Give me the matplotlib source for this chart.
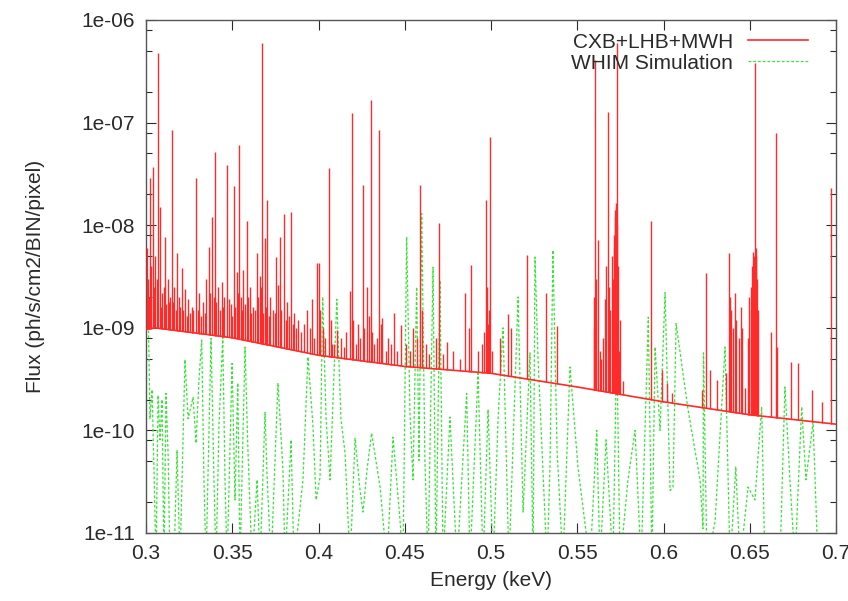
import numpy as np
import matplotlib
matplotlib.use("Agg")
import matplotlib.pyplot as plt
from matplotlib.ticker import LogLocator, FixedLocator, NullFormatter, FuncFormatter

plt.rcParams['font.family'] = ['Liberation Sans', 'DejaVu Sans']

# ---- CXB+LHB+MWH continuum (read at a few energies) ----
cont_energy = [0.300, 0.305, 0.350, 0.400, 0.450, 0.500, 0.550, 0.600, 0.650, 0.700]
cont_flux = [9.6e-10, 1.0e-9, 8.0e-10, 5.4e-10, 4.2e-10, 3.6e-10, 2.65e-10, 1.9e-10, 1.42e-10, 1.15e-10]

# ---- CXB+LHB+MWH emission lines: energy (keV) and peak flux ----
line_energy = [
    0.3005, 0.3010, 0.3023, 0.3039, 0.3045, 0.3055, 0.3070, 0.3080, 0.3095, 0.3110,
    0.3125, 0.3135, 0.3150, 0.3165, 0.3178, 0.3190, 0.3207, 0.3225, 0.3244, 0.3265,
    0.3275, 0.3290, 0.3310, 0.3330, 0.3350, 0.3365, 0.3380, 0.3400, 0.3415, 0.3439,
    0.3455, 0.3471, 0.3490, 0.3510, 0.3525, 0.3539, 0.3550, 0.3564, 0.3584, 0.3600,
    0.3620, 0.3645, 0.3660, 0.3671, 0.3690, 0.3703, 0.3720, 0.3735, 0.3754, 0.3765,
    0.3777, 0.3800, 0.3820, 0.3840, 0.3860, 0.3880, 0.3915, 0.3935, 0.3960, 0.3990,
    0.4003, 0.4025, 0.4061, 0.4080, 0.4105, 0.4130, 0.4160, 0.4180, 0.4192, 0.4215,
    0.4230, 0.4256, 0.4280, 0.4302, 0.4320, 0.4351, 0.4368, 0.4405, 0.4438, 0.4476,
    0.4510, 0.4550, 0.4588, 0.4625, 0.4680, 0.4700, 0.4743, 0.4850, 0.4884, 0.4923,
    0.4960, 0.4971, 0.4980, 0.4992, 0.5050, 0.5100, 0.5115, 0.5207, 0.5319, 0.5380,
    0.5595, 0.5603, 0.5610, 0.5622, 0.5640, 0.5660, 0.5676, 0.5700, 0.5715, 0.5720,
    0.5724, 0.5728, 0.5732, 0.5740, 0.5765, 0.5926, 0.5990, 0.6020, 0.6050, 0.6225,
    0.6246, 0.6270, 0.6310, 0.6360, 0.6380, 0.6414, 0.6447, 0.6475, 0.6497, 0.6515,
    0.6522, 0.6530, 0.6535, 0.6542, 0.6623, 0.6650, 0.6660, 0.6737, 0.6780, 0.6860,
    0.6920, 0.6973,
]
line_flux = [
    6.0e-9, 3.0e-9, 2.9e-8, 3.7e-8, 2.5e-9, 5.0e-9, 4.8e-7, 1.5e-8, 2.2e-9, 7.7e-9,
    3.0e-9, 1.8e-9, 8.5e-8, 2.5e-9, 5.3e-9, 2.0e-9, 3.8e-9, 2.4e-9, 1.9e-9, 1.6e-9,
    1.5e-9, 2.9e-8, 2.2e-9, 1.8e-9, 3.0e-9, 6.1e-9, 1.2e-8, 5.2e-8, 2.5e-9, 2.8e-9,
    2.0e-9, 3.9e-8, 1.7e-9, 2.4e-8, 3.5e-9, 6.0e-8, 2.0e-9, 3.7e-9, 1.1e-8, 2.5e-9,
    1.6e-9, 5.3e-9, 3.2e-9, 6.0e-7, 7.5e-9, 1.76e-8, 2.0e-9, 1.5e-9, 4.9e-9, 2.6e-9,
    7.7e-9, 1.3e-8, 1.8e-9, 1.35e-8, 1.4e-9, 1.2e-9, 1.1e-9, 1.5e-9, 1.9e-9, 4.3e-9,
    4.3e-9, 1.0e-9, 3.6e-8, 7.0e-10, 9.5e-10, 8.0e-10, 9.0e-10, 2.3e-9, 1.24e-7, 7.0e-10,
    1.1e-9, 2.47e-8, 2.5e-9, 1.66e-7, 7.0e-10, 8.5e-8, 1.26e-9, 8.0e-10, 1.4e-9, 1.06e-9,
    7.0e-10, 1.0e-9, 2.47e-8, 7.0e-10, 8.0e-10, 1.05e-8, 7.3e-10, 2.2e-9, 4.1e-9, 6.0e-10,
    9.0e-10, 1.76e-8, 1.1e-9, 7.2e-8, 7.9e-10, 1.36e-9, 1.0e-9, 5.1e-9, 2.2e-9, 1.03e-9,
    1.0e-9, 4.1e-7, 1.2e-9, 7.1e-9, 5.0e-10, 1.9e-9, 1.27e-7, 5.0e-9, 8.0e-9, 1.2e-8,
    1.64e-8, 1.0e-8, 6.0e-7, 6.0e-10, 3.0e-10, 1.1e-8, 3.9e-10, 2.9e-10, 2.3e-10, 2.5e-10,
    3.4e-9, 3.9e-10, 3.1e-10, 3.6e-10, 5.3e-9, 2.2e-9, 1.6e-9, 2.6e-10, 2.0e-9, 4.0e-9,
    5.0e-9, 3.8e-7, 6.0e-9, 3.0e-9, 9.1e-10, 7.9e-8, 6.5e-10, 4.6e-10, 4.5e-10, 2.5e-10,
    1.9e-10, 2.3e-8,
]

# ---- weaker "forest" lines near the continuum ----
forest_energy = [
    0.3015, 0.3030, 0.3062, 0.3088, 0.3102, 0.3118, 0.3142, 0.3158, 0.3172, 0.3198,
    0.3215, 0.3235, 0.3255, 0.3300, 0.3320, 0.3340, 0.3372, 0.3392, 0.3408, 0.3428,
    0.3448, 0.3480, 0.3500, 0.3518, 0.3533, 0.3558, 0.3575, 0.3592, 0.3610, 0.3630,
    0.3652, 0.3667, 0.3678, 0.3697, 0.3712, 0.3745, 0.3785, 0.3810, 0.3830, 0.3850,
    0.3870, 0.3900, 0.3950, 0.3975, 0.4010, 0.4040, 0.4070, 0.4090, 0.4145, 0.4200,
    0.4240, 0.4265, 0.4290, 0.4310, 0.4340, 0.4360, 0.4390, 0.4420, 0.4455, 0.4530,
    0.4570, 0.4600, 0.4640, 0.4720, 0.4780, 0.4820, 0.4870, 0.4945, 0.4975, 0.4988,
    0.5005, 0.5598, 0.5606, 0.5630, 0.5650, 0.5668, 0.5685, 0.5692, 0.5708, 0.5712,
    0.5718, 0.5726, 0.5736, 0.5745, 0.6385, 0.6392, 0.6405, 0.6420, 0.6440, 0.6455,
    0.6490, 0.6505, 0.6510, 0.6518, 0.6527, 0.6533, 0.6538, 0.6548,
]
forest_flux = [
    2.0e-9, 4.0e-9, 3.0e-9, 1.6e-9, 2.5e-9, 1.7e-9, 2.0e-9, 1.8e-9, 1.5e-9, 1.6e-9,
    1.5e-9, 1.3e-9, 1.4e-9, 1.5e-9, 1.3e-9, 1.4e-9, 2.2e-9, 2.0e-9, 1.8e-9, 1.5e-9,
    1.6e-9, 1.9e-9, 1.3e-9, 1.6e-9, 2.2e-9, 1.5e-9, 1.7e-9, 2.0e-9, 1.4e-9, 1.5e-9,
    2.0e-9, 2.5e-9, 1.4e-9, 1.6e-9, 1.3e-9, 1.4e-9, 1.5e-9, 1.2e-9, 1.3e-9, 1.1e-9,
    1.0e-9, 9.0e-10, 1.0e-9, 8.0e-10, 1.5e-9, 8.0e-10, 1.2e-9, 7.0e-10, 6.5e-10, 1.2e-9,
    8.0e-10, 1.0e-9, 1.3e-9, 9.0e-10, 8.0e-10, 1.1e-9, 6.0e-10, 7.0e-10, 6.0e-10, 6.0e-10,
    8.0e-10, 1.5e-9, 5.5e-10, 5.5e-10, 6.0e-10, 5.0e-10, 1.0e-9, 7.0e-10, 2.5e-9, 1.5e-9,
    6.0e-10, 2.0e-9, 3.0e-9, 6.0e-10, 8.0e-10, 4.0e-9, 2.5e-9, 1.5e-9, 3.0e-9, 6.0e-9,
    1.4e-8, 1.5e-8, 4.0e-9, 1.2e-9, 2.0e-9, 1.5e-9, 1.0e-9, 1.2e-9, 8.0e-10, 1.0e-9,
    8.0e-10, 1.5e-9, 2.5e-9, 5.5e-9, 4.5e-9, 3.0e-9, 5.0e-9, 1.5e-9,
]

# ---- WHIM simulation (dashed green), vertices in order ----
whim_energy = [
    0.3000, 0.3012, 0.3023, 0.3035, 0.3046, 0.3058, 0.3070, 0.3081, 0.3093, 0.3104,
    0.3116, 0.3128, 0.3139, 0.3162, 0.3180, 0.3197, 0.3226, 0.3244, 0.3273, 0.3290,
    0.3307, 0.3323, 0.3336, 0.3348, 0.3377, 0.3394, 0.3406, 0.3423, 0.3445, 0.3458,
    0.3470, 0.3499, 0.3516, 0.3532, 0.3545, 0.3574, 0.3591, 0.3615, 0.3644, 0.3661,
    0.3690, 0.3701, 0.3725, 0.3765, 0.3794, 0.3806, 0.3841, 0.3858, 0.3910, 0.3939,
    0.3968, 0.3986, 0.4009, 0.4024, 0.4044, 0.4067, 0.4106, 0.4130, 0.4154, 0.4183,
    0.4212, 0.4241, 0.4258, 0.4281, 0.4308, 0.4357, 0.4397, 0.4432, 0.4473, 0.4490,
    0.4511, 0.4530, 0.4548, 0.4569, 0.4583, 0.4598, 0.4617, 0.4635, 0.4664, 0.4681,
    0.4704, 0.4722, 0.4762, 0.4803, 0.4859, 0.4878, 0.4925, 0.4954, 0.4983, 0.5012,
    0.5041, 0.5070, 0.5104, 0.5157, 0.5186, 0.5226, 0.5244, 0.5255, 0.5273, 0.5325,
    0.5342, 0.5359, 0.5383, 0.5417, 0.5458, 0.5504, 0.5574, 0.5613, 0.5632, 0.5667,
    0.5707, 0.5729, 0.5748, 0.5794, 0.5835, 0.5870, 0.5912, 0.5933, 0.5951, 0.5980,
    0.6009, 0.6038, 0.6055, 0.6073, 0.6142, 0.6212, 0.6229, 0.6232, 0.6252, 0.6299,
    0.6357, 0.6386, 0.6419, 0.6444, 0.6490, 0.6530, 0.6569, 0.6588, 0.6675, 0.6704,
    0.6733, 0.6762, 0.6801, 0.6826, 0.6867, 0.6896,
]
whim_flux = [
    6.4e-9, 1.9e-9, 1.3e-10, 2.5e-10, 4.4e-11, 5e-12, 2.2e-10, 8.1e-11, 2.0e-10, 5e-12,
    2.3e-10, 6.0e-11, 5e-12, 5e-12, 6.4e-11, 5e-12, 4.9e-10, 1.3e-10, 2.1e-10, 7.5e-11,
    3.1e-10, 7.6e-10, 3.3e-11, 5e-12, 7.9e-10, 3.3e-11, 5e-12, 1.1e-10, 8.1e-10, 3.3e-11,
    5e-12, 4.5e-10, 2.1e-11, 2.9e-10, 5e-12, 6.5e-10, 6.4e-11, 5e-12, 3.3e-11, 5e-12,
    1.5e-10, 3.9e-11, 5e-12, 2.9e-10, 4.1e-11, 5e-12, 8.1e-11, 5e-12, 3.3e-11, 5.2e-10,
    1.1e-10, 2.1e-11, 3.5e-11, 2.0e-9, 1.3e-10, 3.3e-11, 1.9e-9, 1.3e-10, 6.0e-11, 5e-12,
    8.4e-11, 2.6e-11, 1.6e-11, 4.1e-11, 9.4e-11, 2.8e-11, 5e-12, 8.6e-11, 1.3e-11, 5e-12,
    7.7e-9, 1.5e-10, 3.3e-11, 2.5e-9, 5.1e-11, 1.3e-8, 5.1e-11, 5e-12, 3.9e-9, 5e-12,
    2.9e-9, 5e-12, 1.35e-10, 5e-12, 2.3e-10, 5e-12, 3.6e-10, 5e-12, 1.6e-10, 5e-12,
    1.3e-10, 1.0e-9, 5e-12, 2.0e-9, 1.6e-11, 5.7e-10, 5e-12, 4.9e-9, 4.85e-10, 5e-12,
    4.4e-11, 5.7e-9, 6.4e-11, 5e-12, 4.15e-10, 4.4e-11, 5e-12, 1.0e-10, 5e-12, 8.1e-11,
    5e-12, 7.6e-10, 5e-12, 3.3e-11, 1.0e-10, 5e-12, 1.27e-9, 5e-12, 6.5e-10, 1.0e-10,
    2.2e-9, 2.6e-11, 2.8e-11, 1.1e-9, 1.6e-10, 3.3e-11, 1.1e-11, 5.7e-10, 5e-12, 1.3e-11,
    6.5e-10, 5e-12, 4.4e-11, 5e-12, 2.8e-11, 2.1e-11, 1.7e-10, 5e-12, 5e-12, 2.65e-10,
    3.3e-11, 5e-12, 1.7e-10, 3.3e-11, 1.2e-10, 5e-12,
]

xticks = [0.3, 0.35, 0.4, 0.45, 0.5, 0.55, 0.6, 0.65, 0.7]
xtick_labels = ['0.3', '0.35', '0.4', '0.45', '0.5', '0.55', '0.6', '0.65', '0.7']
ytick_labels = {1e-6: '1e-06', 1e-7: '1e-07', 1e-8: '1e-08', 1e-9: '1e-09', 1e-10: '1e-10', 1e-11: '1e-11'}

fig = plt.figure(figsize=(8.48, 6.01), dpi=100)
ax = fig.add_axes([146 / 848, 1 - 533 / 601, 690 / 848, 513 / 601])
ax.set_yscale('log')

red = '#ff2a2a'
green = '#3ae23a'
text_col = '#2a2a2a'

# WHIM simulation
ax.plot(whim_energy, whim_flux, color=green, lw=0.9, ls=(0, (2.2, 1.6)),
        label='WHIM Simulation', zorder=2)

# CXB+LHB+MWH: continuum plus emission-line spikes
def log_interp(e):
    return 10 ** np.interp(e, cont_energy, np.log10(cont_flux))

le = np.array(line_energy)
lf = np.array(line_flux)
fe = np.array(forest_energy)
ff = np.array(forest_flux)
ax.vlines(fe, log_interp(fe), ff, color=red, lw=1.0, zorder=3)
ax.vlines(le, log_interp(le), lf, color=red, lw=1.0, zorder=3)
ax.plot(cont_energy, cont_flux, color=red, lw=1.2, label='CXB+LHB+MWH', zorder=3)

ax.set_xlim(0.3, 0.7)
ax.set_ylim(1e-11, 1e-6)
ax.xaxis.set_major_locator(FixedLocator(xticks))
ax.set_xticklabels(xtick_labels)
ax.yaxis.set_major_locator(LogLocator(base=10, numticks=20))
ax.yaxis.set_minor_locator(LogLocator(base=10, subs=[2, 5, 8], numticks=20))
ax.yaxis.set_minor_formatter(NullFormatter())
ax.yaxis.set_major_formatter(FuncFormatter(lambda v, p: ytick_labels.get(float('%.0e' % v), '')))

ax.tick_params(axis='both', which='both', direction='in', top=True, right=True,
               labelsize=15, colors=text_col, width=0.8)
ax.tick_params(axis='both', which='major', length=7, pad=8)
ax.tick_params(axis='y', which='minor', length=4)
for s in ax.spines.values():
    s.set_color('#555555')
    s.set_linewidth(1.0)

ax.set_xlabel('Energy (keV)', fontsize=15, color=text_col, labelpad=6)
ax.set_ylabel('Flux (ph/s/cm2/BIN/pixel)', fontsize=15, color=text_col, labelpad=26)

h, l = ax.get_legend_handles_labels()
ax.legend(h[::-1], l[::-1], loc='upper right', bbox_to_anchor=(0.978, 1.0),
          markerfirst=False, frameon=False, fontsize=15, handlelength=2.9,
          handletextpad=0.7, labelspacing=0.1, borderaxespad=0.3, borderpad=0.3,
          labelcolor=text_col)

fig.savefig('out.png', dpi=100)
